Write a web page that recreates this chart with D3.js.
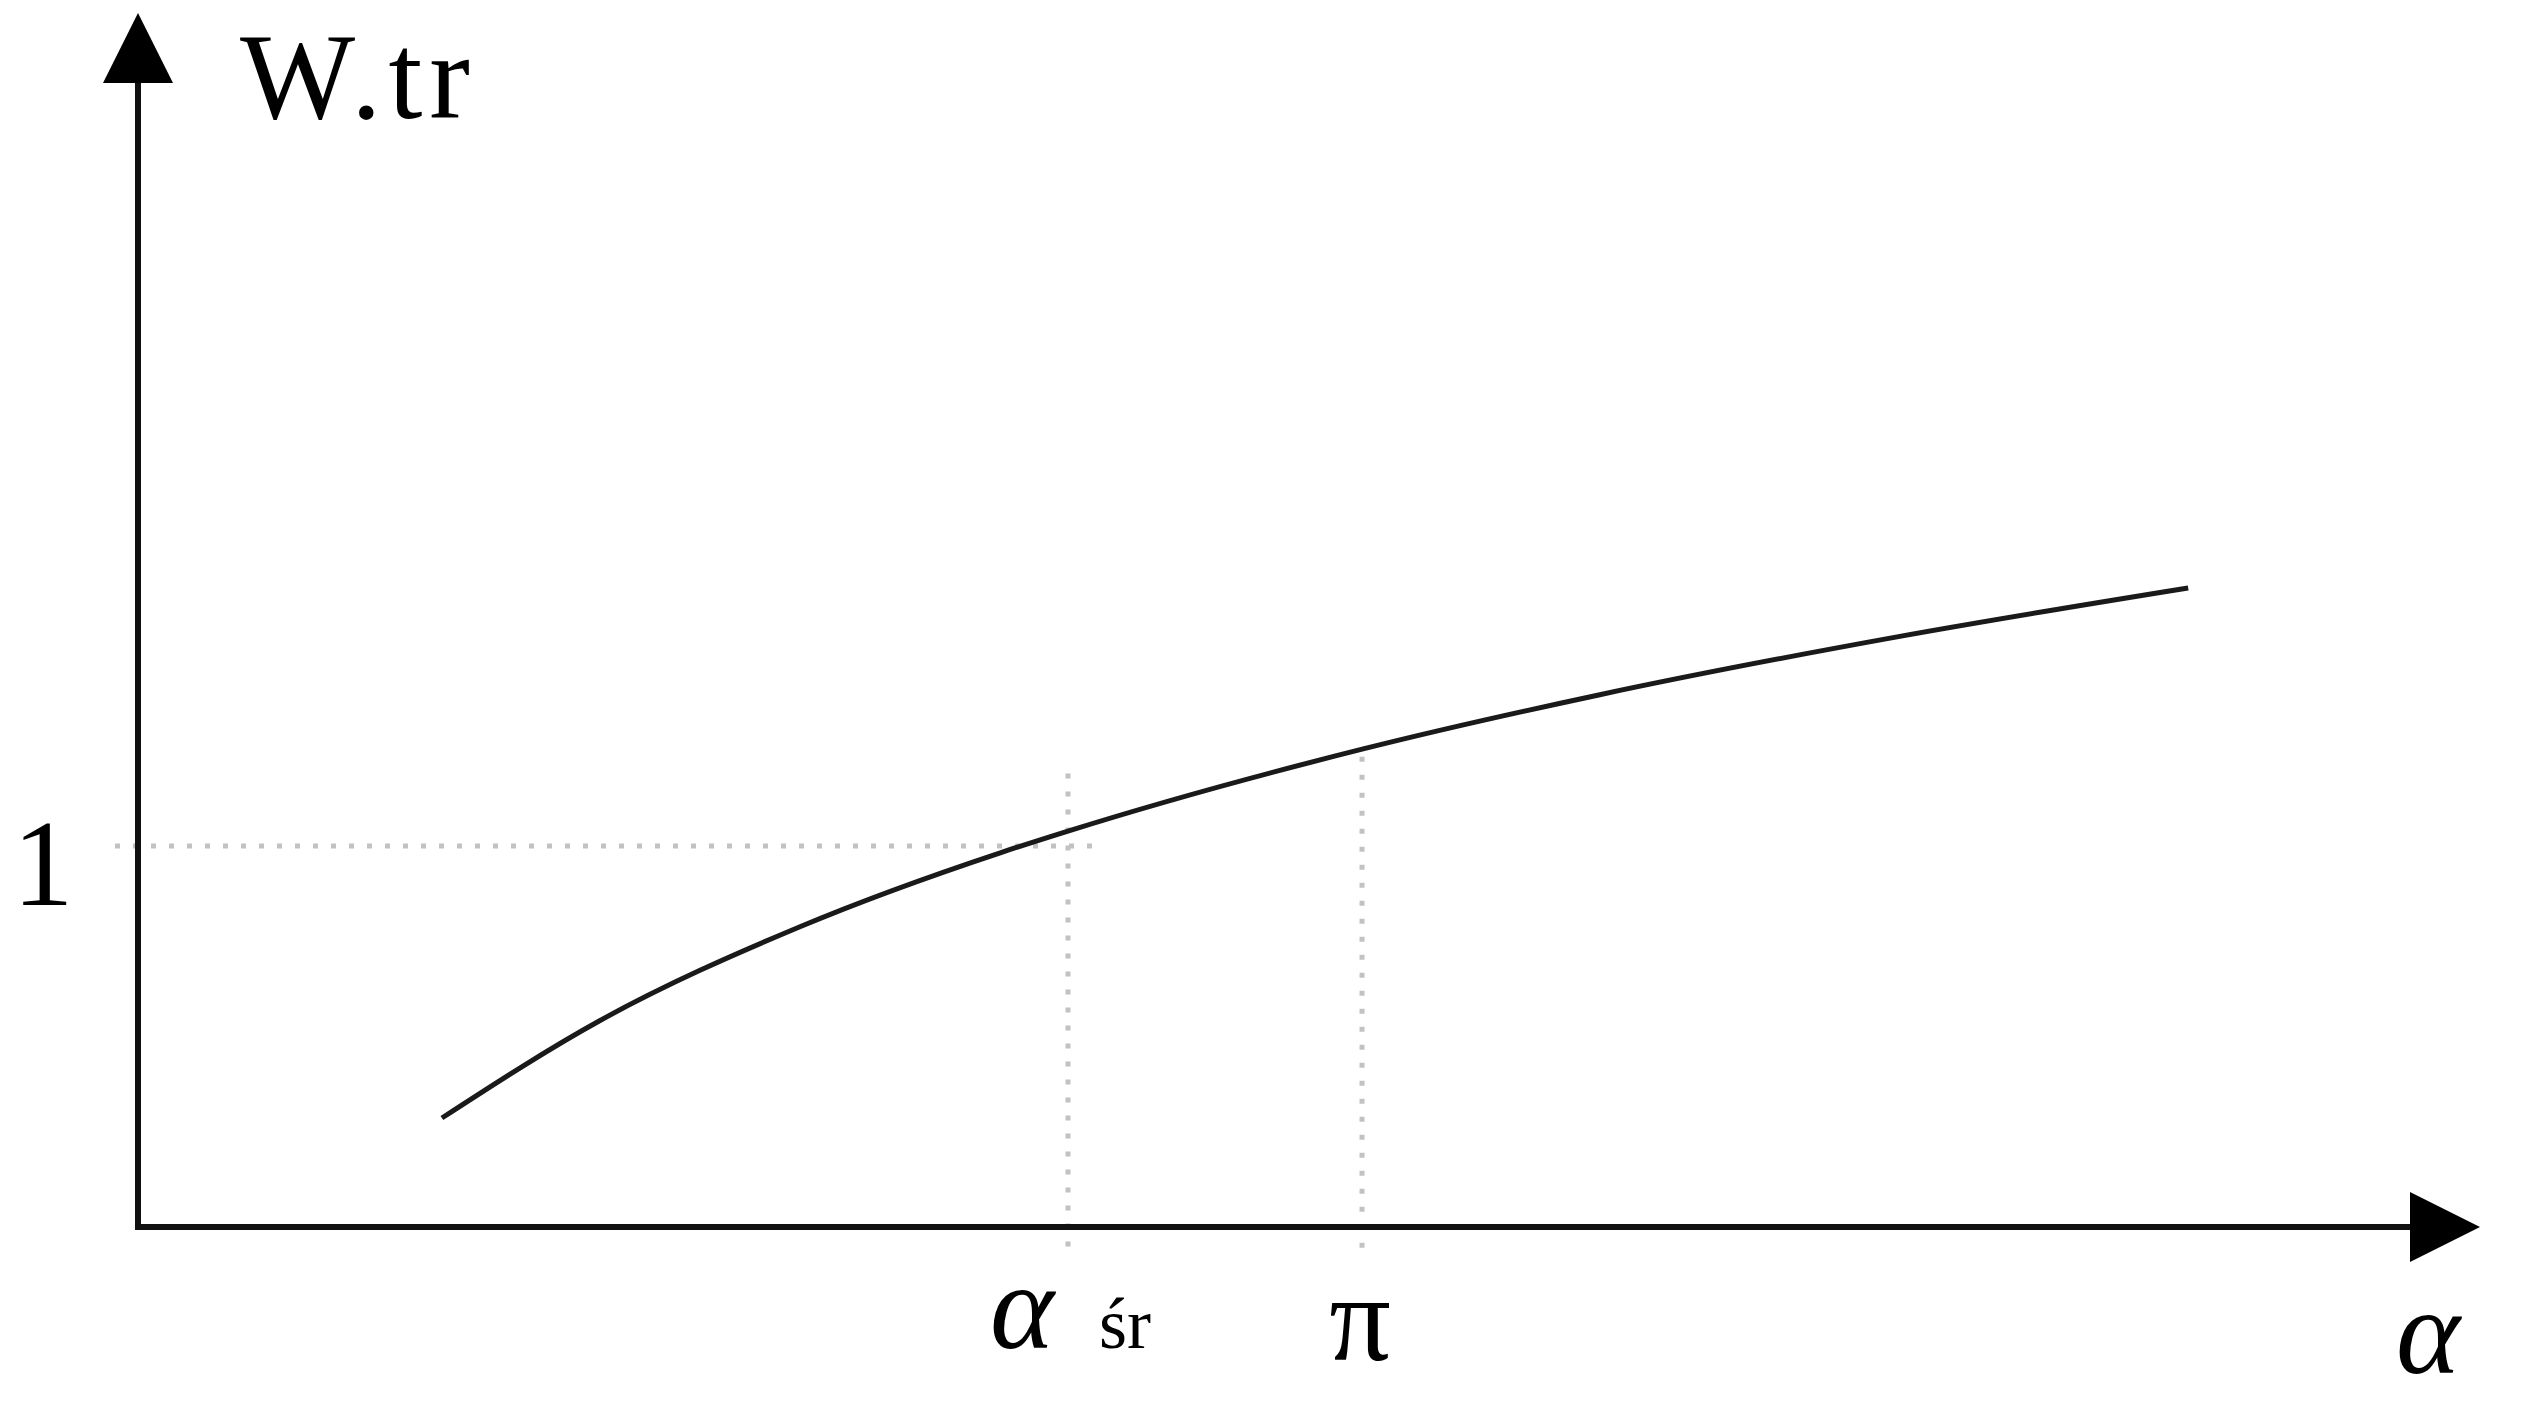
<!DOCTYPE html>
<html>
<head>
<meta charset="utf-8">
<script src="https://cdn.jsdelivr.net/npm/d3@7"></script>
<style>
  html, body { margin: 0; padding: 0; background: #fff; }
  svg { display: block; }
  text { font-family: "Liberation Serif", "DejaVu Serif", serif; fill: #000; }
</style>
</head>
<body>
<svg id="chart"></svg>
<script>
// curve W.tr(alpha)
const alphaVals = [0.78, 1.186, 1.699, 2.213, 2.387, 3.142, 3.752, 4.522, 5.262];
const wtrVals   = [0.286, 0.542, 0.788, 0.982, 1.039, 1.254, 1.397, 1.550, 1.677];

const alphaSr = 2.387;
const xMax = 6.011;   // where the x arrow ends
const yMax = 3.186;   // where the y arrow ends

// dotted guide lines [x0, y0, x1, y1]
const guides = [
  [-0.059, 1, 2.453, 1],
  [alphaSr, 1.19, alphaSr, -0.066],
  [Math.PI, 1.234, Math.PI, -0.08]
];

const width = 2526, height = 1422;

const svg = d3.select('#chart')
  .attr('width', width)
  .attr('height', height);

const x = d3.scaleLinear().domain([0, xMax]).range([138, 2480]);
const y = d3.scaleLinear().domain([0, yMax]).range([1227, 13]);

// guides
svg.selectAll('line.guide')
  .data(guides)
  .enter()
  .append('line')
    .attr('class', 'guide')
    .attr('x1', d => x(d[0]))
    .attr('y1', d => y(d[1]))
    .attr('x2', d => x(d[2]))
    .attr('y2', d => y(d[3]))
    .style('stroke', '#c2c2c2')
    .style('stroke-width', 5)
    .style('stroke-dasharray', '5,13');

// axes
const axisColor = '#111';
svg.append('line')
  .attr('x1', x(0)).attr('y1', y(0) + 3)
  .attr('x2', x(0)).attr('y2', y(yMax) + 60)
  .style('stroke', axisColor).style('stroke-width', 6);

svg.append('line')
  .attr('x1', x(0) - 3).attr('y1', y(0))
  .attr('x2', x(xMax) - 60).attr('y2', y(0))
  .style('stroke', axisColor).style('stroke-width', 6);

const head = 70, half = 35;
svg.append('path')
  .attr('d', `M${x(0)},${y(yMax)} L${x(0) - half},${y(yMax) + head} L${x(0) + half},${y(yMax) + head} Z`)
  .style('fill', '#000');
svg.append('path')
  .attr('d', `M${x(xMax)},${y(0)} L${x(xMax) - head},${y(0) - half} L${x(xMax) - head},${y(0) + half} Z`)
  .style('fill', '#000');

// curve
const line = d3.line()
  .x(d => x(d[0]))
  .y(d => y(d[1]))
  .curve(d3.curveMonotoneX);

svg.append('path')
  .datum(d3.zip(alphaVals, wtrVals))
  .attr('d', line)
  .style('fill', 'none')
  .style('stroke', '#1a1a1a')
  .style('stroke-width', 5);

// labels
svg.append('text')
  .attr('x', x(0) + 102)
  .attr('y', y(yMax) + 105)
  .style('font-size', '122px')
  .style('letter-spacing', '7px')
  .text('W.tr');

svg.append('text')
  .attr('x', 43)
  .attr('y', y(1) + 59)
  .attr('text-anchor', 'middle')
  .style('font-size', '122px')
  .text('1');

const srLabel = svg.append('text')
  .attr('x', x(alphaSr) - 78)
  .attr('y', y(0) + 121);
srLabel.append('tspan')
  .style('font-size', '122px')
  .style('font-style', 'italic')
  .text('α');
srLabel.append('tspan')
  .attr('dx', 45)
  .style('font-size', '72px')
  .text('śr');

svg.append('text')
  .attr('x', x(Math.PI) - 2)
  .attr('y', y(0) + 133)
  .attr('text-anchor', 'middle')
  .style('font-size', '122px')
  .text('π');

svg.append('text')
  .attr('x', x(xMax) - 52)
  .attr('y', y(0) + 146)
  .attr('text-anchor', 'middle')
  .style('font-size', '122px')
  .style('font-style', 'italic')
  .text('α');
</script>
</body>
</html>
